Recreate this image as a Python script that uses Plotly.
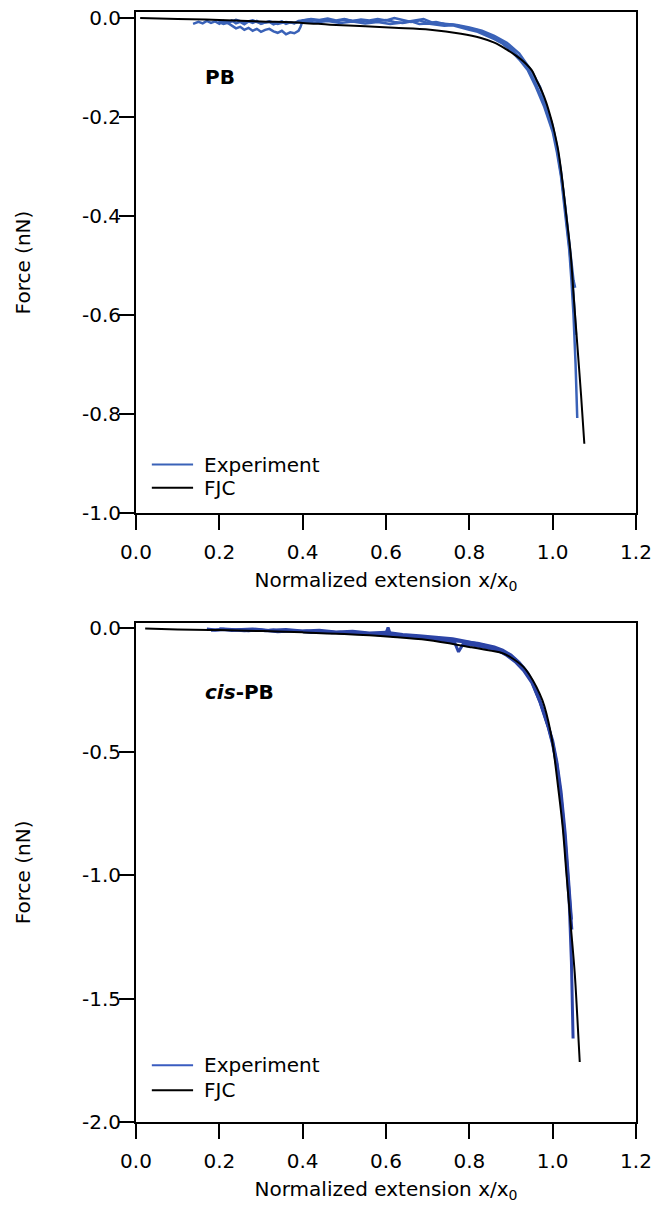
import plotly.graph_objects as go

# ---------------- data ----------------
# Top panel: PB
pb_fjc_x = [0.01, 0.1, 0.2, 0.3, 0.4, 0.466, 0.55, 0.62, 0.706, 0.78, 0.826, 0.86, 0.89, 0.91,
            0.93, 0.95, 0.961, 0.975, 0.985, 0.995, 1.001, 1.013, 1.023, 1.033, 1.043, 1.051,
            1.06, 1.068, 1.076]
pb_fjc_y = [0.0, -0.002, -0.004, -0.007, -0.010, -0.0135, -0.017, -0.020, -0.024, -0.032, -0.040,
            -0.050, -0.064, -0.075, -0.088, -0.106, -0.125, -0.150, -0.172, -0.200, -0.219, -0.266,
            -0.327, -0.401, -0.475, -0.569, -0.67, -0.76, -0.860]

pb_exp1_x = [0.137, 0.15, 0.16, 0.17, 0.18, 0.19, 0.20, 0.21, 0.22, 0.23, 0.24, 0.25, 0.26, 0.27,
             0.28, 0.29, 0.30, 0.31, 0.32, 0.33, 0.34, 0.35, 0.36, 0.37, 0.38, 0.39, 0.40, 0.42,
             0.44, 0.46, 0.48, 0.50, 0.52, 0.54, 0.56, 0.58, 0.60, 0.62, 0.64, 0.66, 0.68, 0.70,
             0.72, 0.74, 0.76, 0.78, 0.80, 0.82, 0.84, 0.86, 0.88, 0.90, 0.92, 0.94, 0.96, 0.98,
             1.00, 1.01, 1.02, 1.03, 1.04, 1.045, 1.05, 1.055, 1.059]
pb_exp1_y = [-0.012, -0.008, -0.011, -0.006, -0.010, -0.007, -0.012, -0.006, -0.009, -0.005, -0.011,
             -0.008, -0.013, -0.007, -0.010, -0.006, -0.012, -0.009, -0.008, -0.013, -0.010, -0.007,
             -0.012, -0.009, -0.011, -0.006, -0.005, -0.003, -0.006, -0.004, -0.007, -0.003, -0.006,
             -0.005, -0.008, -0.006, -0.004, -0.008, -0.010, -0.007, -0.012, -0.011, -0.014, -0.016,
             -0.015, -0.020, -0.024, -0.028, -0.035, -0.043, -0.052, -0.066, -0.084, -0.105, -0.140,
             -0.180, -0.230, -0.270, -0.320, -0.390, -0.470, -0.530, -0.600, -0.700, -0.808]

pb_exp2_x = [0.197, 0.21, 0.22, 0.23, 0.24, 0.25, 0.26, 0.27, 0.28, 0.29, 0.30, 0.31, 0.32, 0.33,
             0.34, 0.35, 0.36, 0.37, 0.38, 0.39, 0.395, 0.40, 0.42, 0.44, 0.46, 0.48, 0.50, 0.52,
             0.54, 0.56, 0.58, 0.60, 0.62, 0.64, 0.66, 0.68, 0.70, 0.72, 0.74, 0.76, 0.78, 0.80,
             0.82, 0.84, 0.86, 0.88, 0.90, 0.92, 0.94, 0.96, 0.98, 1.00, 1.01, 1.02, 1.03, 1.04,
             1.05, 1.054]
pb_exp2_y = [-0.008, -0.012, -0.010, -0.015, -0.021, -0.018, -0.024, -0.020, -0.026, -0.022, -0.028,
             -0.024, -0.022, -0.027, -0.030, -0.026, -0.033, -0.029, -0.031, -0.026, -0.018, -0.005,
             -0.002, -0.004, -0.001, -0.005, -0.002, -0.006, -0.003, -0.005, -0.002, -0.005, 0.000,
             -0.004, -0.008, -0.005, -0.010, -0.008, -0.012, -0.013, -0.017, -0.020, -0.025, -0.031,
             -0.040, -0.049, -0.062, -0.080, -0.102, -0.134, -0.175, -0.225, -0.262, -0.315, -0.380,
             -0.455, -0.530, -0.545]

pb_exp3_x = [0.20, 0.22, 0.24, 0.26, 0.28, 0.30, 0.32, 0.34, 0.36, 0.38, 0.40, 0.43, 0.46, 0.49,
             0.52, 0.55, 0.58, 0.61, 0.64, 0.67, 0.69, 0.71, 0.74, 0.77, 0.80, 0.83, 0.86, 0.89,
             0.92, 0.95, 0.97, 0.99, 1.00, 1.01, 1.02, 1.03, 1.04, 1.05, 1.056]
pb_exp3_y = [-0.006, -0.010, -0.004, -0.009, -0.005, -0.011, -0.007, -0.012, -0.008, -0.010, -0.007,
             -0.009, -0.006, -0.010, -0.007, -0.011, -0.008, -0.012, -0.009, -0.004, -0.002, -0.009,
             -0.011, -0.014, -0.019, -0.026, -0.036, -0.050, -0.072, -0.108, -0.140, -0.190, -0.218,
             -0.258, -0.310, -0.385, -0.462, -0.560, -0.640]

# Bottom panel: cis-PB
cis_fjc_x = [0.022, 0.1, 0.2, 0.306, 0.4, 0.5, 0.61, 0.7, 0.8, 0.85, 0.881, 0.90, 0.93, 0.945,
             0.961, 0.975, 0.985, 0.995, 1.001, 1.013, 1.024, 1.033, 1.043, 1.053, 1.059, 1.065]
cis_fjc_y = [0.0, -0.004, -0.007, -0.011, -0.016, -0.023, -0.034, -0.047, -0.075, -0.090, -0.101,
             -0.118, -0.156, -0.190, -0.237, -0.290, -0.345, -0.420, -0.48, -0.642, -0.804, -0.993,
             -1.196, -1.398, -1.57, -1.757]

cis_exp1_x = [0.170, 0.19, 0.21, 0.23, 0.25, 0.27, 0.29, 0.31, 0.33, 0.35, 0.37, 0.39, 0.41, 0.43,
              0.45, 0.47, 0.49, 0.51, 0.53, 0.55, 0.57, 0.59, 0.60, 0.605, 0.61, 0.63, 0.65, 0.67,
              0.69, 0.71, 0.73, 0.75, 0.765, 0.774, 0.785, 0.81, 0.83, 0.85, 0.87, 0.89, 0.91,
              0.93, 0.95, 0.97, 0.99, 1.00, 1.01, 1.02, 1.03, 1.04, 1.045, 1.049]
cis_exp1_y = [-0.002, -0.006, -0.003, -0.008, -0.005, -0.009, -0.006, -0.010, -0.007, -0.012, -0.009,
              -0.013, -0.011, -0.015, -0.013, -0.018, -0.016, -0.020, -0.019, -0.024, -0.022, -0.027,
              -0.020, 0.004, -0.022, -0.030, -0.033, -0.036, -0.040, -0.043, -0.047, -0.052, -0.058,
              -0.095, -0.064, -0.068, -0.074, -0.082, -0.092, -0.105, -0.125, -0.160, -0.215, -0.300,
              -0.405, -0.470, -0.560, -0.690, -0.870, -1.120, -1.350, -1.662]

cis_exp2_x = [0.18, 0.22, 0.26, 0.30, 0.34, 0.38, 0.42, 0.46, 0.50, 0.54, 0.58, 0.62, 0.66, 0.70,
              0.74, 0.78, 0.82, 0.86, 0.88, 0.90, 0.92, 0.94, 0.96, 0.98, 1.00, 1.01, 1.02, 1.03,
              1.04, 1.045]
cis_exp2_y = [-0.008, -0.004, -0.010, -0.007, -0.014, -0.010, -0.017, -0.013, -0.021, -0.018, -0.026,
              -0.029, -0.033, -0.038, -0.046, -0.052, -0.060, -0.075, -0.088, -0.108, -0.138, -0.180,
              -0.245, -0.345, -0.455, -0.540, -0.660, -0.830, -1.050, -1.180]

cis_exp3_x = [0.20, 0.24, 0.28, 0.32, 0.36, 0.40, 0.44, 0.48, 0.52, 0.56, 0.60, 0.64, 0.68, 0.72,
              0.76, 0.80, 0.84, 0.87, 0.89, 0.91, 0.93, 0.95, 0.97, 0.99, 1.00, 1.01, 1.02, 1.03,
              1.04, 1.046]
cis_exp3_y = [-0.001, -0.005, -0.002, -0.008, -0.004, -0.011, -0.008, -0.015, -0.012, -0.019, -0.016,
              -0.025, -0.030, -0.036, -0.042, -0.055, -0.070, -0.090, -0.110, -0.135, -0.170, -0.220,
              -0.300, -0.400, -0.465, -0.550, -0.680, -0.860, -1.090, -1.220]

x_ticks = [0.0, 0.2, 0.4, 0.6, 0.8, 1.0, 1.2]
x_ticklabels = ["0.0", "0.2", "0.4", "0.6", "0.8", "1.0", "1.2"]
pb_y_ticks = [0.0, -0.2, -0.4, -0.6, -0.8, -1.0]
pb_y_ticklabels = ["0.0", "-0.2", "-0.4", "-0.6", "-0.8", "-1.0"]
cis_y_ticks = [0.0, -0.5, -1.0, -1.5, -2.0]
cis_y_ticklabels = ["0.0", "-0.5", "-1.0", "-1.5", "-2.0"]
legend_labels = ["Experiment", "FJC"]

# ---------------- styling ----------------
FONT = "DejaVu Sans, Liberation Sans, Arial, sans-serif"
FS = 20
BLUE_TOP = "#3a62b8"
BLUE_BOT = "#2c44a6"
BLUE_LEG_BOT = "#3a5cc0"

fig = go.Figure()

for i, (xs, ys) in enumerate([(pb_exp1_x, pb_exp1_y), (pb_exp2_x, pb_exp2_y), (pb_exp3_x, pb_exp3_y)]):
    fig.add_trace(go.Scatter(x=xs, y=ys, mode="lines", name=legend_labels[0],
                             line=dict(color=BLUE_TOP, width=2.5), showlegend=False,
                             xaxis="x", yaxis="y"))
fig.add_trace(go.Scatter(x=pb_fjc_x, y=pb_fjc_y, mode="lines", name=legend_labels[1], line_shape="spline",
                         line=dict(color="black", width=2), showlegend=False, xaxis="x", yaxis="y"))

for i, (xs, ys) in enumerate([(cis_exp1_x, cis_exp1_y), (cis_exp2_x, cis_exp2_y), (cis_exp3_x, cis_exp3_y)]):
    fig.add_trace(go.Scatter(x=xs, y=ys, mode="lines", name=legend_labels[0],
                             line=dict(color=BLUE_BOT, width=3), showlegend=False,
                             xaxis="x2", yaxis="y2"))
fig.add_trace(go.Scatter(x=cis_fjc_x, y=cis_fjc_y, mode="lines", name=legend_labels[1], line_shape="spline",
                         line=dict(color="black", width=2), showlegend=False, xaxis="x2", yaxis="y2"))

axis_common = dict(showgrid=False, zeroline=False, showline=True, linecolor="black", linewidth=2,
                   mirror=True, ticks="outside", ticklen=15, tickwidth=2, tickcolor="black",
                   automargin=False,
                   tickfont=dict(family=FONT, size=FS, color="black"))

xtitle = dict(text="Normalized extension x/x<sub>0</sub>", font=dict(family=FONT, size=FS, color="black"),
              standoff=10)
ytitle = dict(text="Force (nN)", font=dict(family=FONT, size=FS, color="black"), standoff=46)

font_txt = dict(family=FONT, size=FS, color="black")

# manual legends (sample line + label) placed in data coordinates of each panel
legend_shapes = []
legend_ann = []
for (xa, ya, ys, colors) in [("x", "y", [-0.902, -0.949], [BLUE_TOP, "black"]),
                             ("x2", "y2", [-1.770, -1.871], [BLUE_LEG_BOT, "black"])]:
    for lab, yy, col in zip(legend_labels, ys, colors):
        legend_shapes.append(dict(type="line", xref=xa, yref=ya, x0=0.038, x1=0.137, y0=yy, y1=yy,
                                  line=dict(color=col, width=2)))
        legend_ann.append(dict(text=lab, xref=xa, yref=ya, x=0.158, y=yy, xanchor="left",
                               yanchor="middle", showarrow=False, font=font_txt))

fig.update_layout(
    width=657, height=1209,
    margin=dict(l=136, r=21, t=12, b=87),
    paper_bgcolor="white", plot_bgcolor="white",
    showlegend=False,
    xaxis=dict(axis_common, domain=[0, 1], range=[0, 1.2], tickvals=x_ticks, ticktext=x_ticklabels,
               ticklabelstandoff=5, title=xtitle, anchor="y"),
    yaxis=dict(axis_common, domain=[0.5486, 1.0], range=[-1.0, 0.012], tickvals=pb_y_ticks,
               ticktext=pb_y_ticklabels, ticklabelstandoff=-6, title=ytitle, anchor="x"),
    xaxis2=dict(axis_common, domain=[0, 1], range=[0, 1.2], tickvals=x_ticks, ticktext=x_ticklabels,
                ticklabelstandoff=5, title=xtitle, anchor="y2"),
    yaxis2=dict(axis_common, domain=[0.0, 0.4498], range=[-2.0, 0.023], tickvals=cis_y_ticks,
                ticktext=cis_y_ticklabels, ticklabelstandoff=-6, title=ytitle, anchor="x2"),
    shapes=legend_shapes,
    annotations=[
        dict(text="<b>PB</b>", x=0.16, y=-0.12, xref="x", yref="y", xanchor="left", yanchor="middle",
             showarrow=False, font=font_txt),
        dict(text="<b><i>cis</i>-PB</b>", x=0.16, y=-0.258, xref="x2", yref="y2", xanchor="left",
             yanchor="middle", showarrow=False, font=font_txt),
    ] + legend_ann,
)

fig.write_html("out.html", config={"displayModeBar": False},
               post_script="document.body.style.margin='0';")
